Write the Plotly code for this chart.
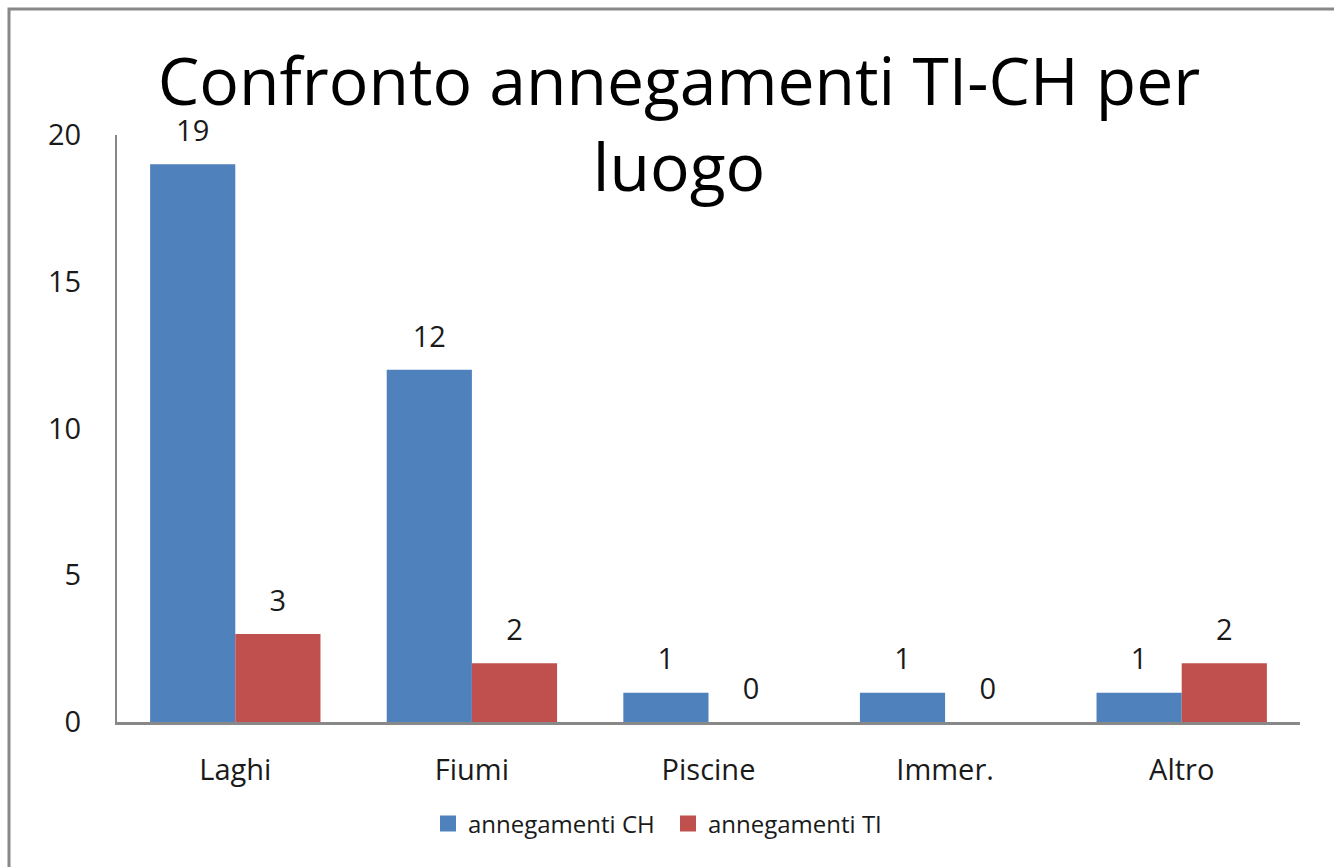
import plotly.graph_objects as go

categories = ["Laghi", "Fiumi", "Piscine", "Immer.", "Altro"]
ch_values = [19, 12, 1, 1, 1]
ti_values = [3, 2, 0, 0, 2]
series_names = ["annegamenti CH", "annegamenti TI"]
series_colors = ["#4F81BD", "#C0504D"]
y_ticks = [0, 5, 10, 15, 20]
title_text = "Confronto annegamenti TI-CH per<br>luogo"

FONT = "Open Sans"
TXT = "#1a1a1a"

fig = go.Figure()
series = [(series_names[0], ch_values, series_colors[0], "a"),
          (series_names[1], ti_values, series_colors[1], "b")]
for name, vals, col, grp in series:
    fig.add_trace(go.Bar(
        x=categories, y=vals, name=name, offsetgroup=grp, showlegend=False,
        marker=dict(color=col, line=dict(width=0)),
    ))
for name, vals, col, grp in series:
    fig.add_trace(go.Scatter(
        x=categories, y=vals, offsetgroup=grp, mode="markers+text",
        text=[str(v) for v in vals], textposition="top center",
        marker=dict(size=24, opacity=0), showlegend=False, hoverinfo="skip",
        textfont=dict(family=FONT, size=29, color=TXT), cliponaxis=False,
    ))
# legend entries (square swatches)
for name, vals, col, grp in series:
    fig.add_trace(go.Scatter(
        x=[None], y=[None], name=name, mode="markers",
        marker=dict(symbol="square", size=17, color=col), showlegend=True,
    ))

W, H = 1334, 867
L, R, T, B = 117, 34, 135, 145
pw, ph = W - L - R, H - T - B

fig.update_layout(
    width=W, height=H,
    margin=dict(l=L, r=R, t=T, b=B, autoexpand=False),
    paper_bgcolor="white", plot_bgcolor="white",
    font=dict(family=FONT, color=TXT),
    title=dict(text=title_text, x=679 / W, xanchor="center",
               y=1 - 105 / H, yanchor="top", yref="container",
               font=dict(family=FONT, size=66, color="#000000")),
    barmode="group", scattermode="group", bargap=0.28, bargroupgap=0,
    showlegend=True,
    legend=dict(orientation="h", x=(428 - L) / pw, xanchor="left",
                y=-(824 - (H - B)) / ph, yanchor="middle",
                font=dict(family=FONT, size=24, color=TXT),
                itemwidth=30, traceorder="normal",
                entrywidth=195, entrywidthmode="pixels"),
)
fig.update_yaxes(range=[0, 20], tickvals=y_ticks, showgrid=False, zeroline=False,
                 showline=True, linecolor="#888888", linewidth=2,
                 ticks="", ticklabelstandoff=28,
                 tickfont=dict(family=FONT, size=29, color=TXT))
fig.update_xaxes(showgrid=False, showline=True, linecolor="#888888", linewidth=3,
                 ticks="", ticklabelstandoff=20,
                 tickfont=dict(family=FONT, size=29, color=TXT))

fig.add_shape(type="rect", xref="paper", yref="paper",
              x0=(9 - L) / pw, x1=(W + 30 - L) / pw,
              y0=-(H + 30 - (H - B)) / ph, y1=(H - B - 9) / ph,
              line=dict(color="#888888", width=3), fillcolor="rgba(0,0,0,0)",
              layer="below")

fig.write_html("out.html", config={"displayModeBar": False},
               post_script="document.body.style.margin='0';document.body.style.overflow='hidden';")
